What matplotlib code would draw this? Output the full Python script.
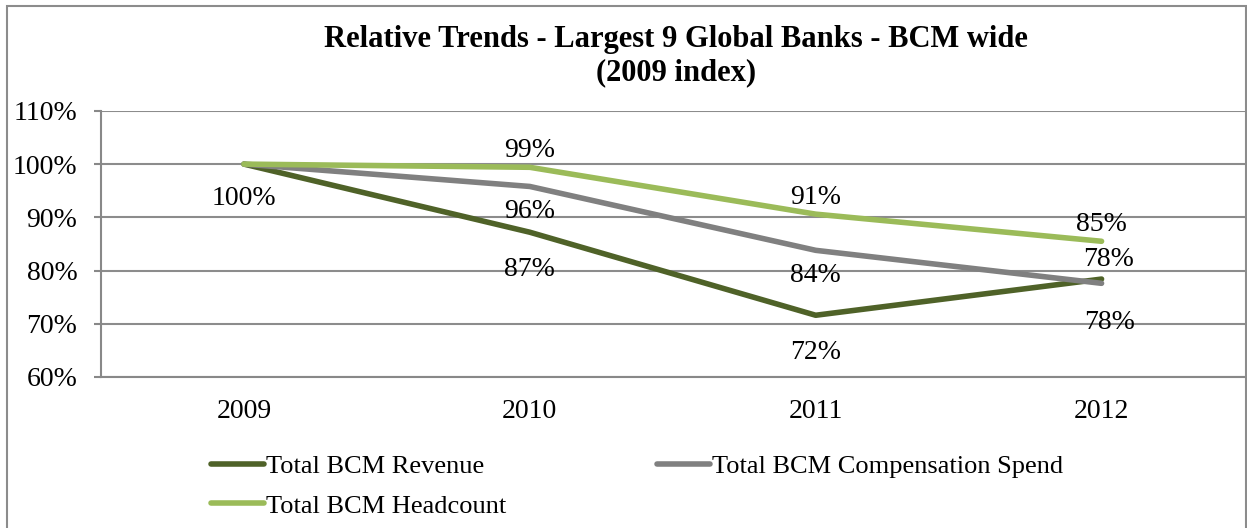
import matplotlib.pyplot as plt
from matplotlib.patches import Rectangle
from matplotlib.ticker import FuncFormatter

# index values, 2009 = 100%
years = ['2009', '2010', '2011', '2012']
revenue = [100, 87.2, 71.6, 78.4]
compensation = [100, 95.8, 83.8, 77.6]
headcount = [100, 99.4, 90.6, 85.5]

revenue_labels = ['100%', '87%', '72%', '78%']
compensation_labels = ['', '96%', '84%', '78%']
headcount_labels = ['', '99%', '91%', '85%']

plt.rcParams['font.family'] = ['Liberation Serif', 'DejaVu Serif']

fig = plt.figure(figsize=(12.47, 5.28), dpi=100)
ax = fig.add_axes([0.081, 0.286, 0.917, 0.504])

x = range(len(years))
l_rev, = ax.plot(x, revenue, color='#4f6228', lw=4, solid_capstyle='round', label='Total BCM Revenue', zorder=3)
l_comp, = ax.plot(x, compensation, color='#808080', lw=4, solid_capstyle='round', label='Total BCM Compensation Spend', zorder=3)
l_head, = ax.plot(x, headcount, color='#9bbb59', lw=4, solid_capstyle='round', label='Total BCM Headcount', zorder=3)

# data labels: headcount above, the others below (revenue 2012 goes above)
fs = 20
for i in x:
    if headcount_labels[i]:
        ax.annotate(headcount_labels[i], (i, headcount[i]), xytext=(0, 12), textcoords='offset points',
                    ha='center', va='center', fontsize=fs)
    if compensation_labels[i]:
        dy = -28 if i == 3 else -18
        ax.annotate(compensation_labels[i], (i, compensation[i]), xytext=(6 if i == 3 else 0, dy),
                    textcoords='offset points', ha='center', va='center', fontsize=fs)
    dy = 14 if i == 3 else -27
    if i == 0:
        dy = -25
    ax.annotate(revenue_labels[i], (i, revenue[i]), xytext=(5 if i == 3 else 0, dy),
                textcoords='offset points', ha='center', va='center', fontsize=fs)

ax.set_xlim(-0.5, 3.5)
ax.set_ylim(60, 110)
ax.set_yticks([60, 70, 80, 90, 100, 110])
ax.yaxis.set_major_formatter(FuncFormatter(lambda v, p: '%d%%' % v))
ax.set_xticks(list(x))
ax.set_xticklabels(years)
ax.tick_params(axis='y', length=5, width=1.5, color='#888888', labelsize=20, pad=12)
ax.tick_params(axis='x', length=0, labelsize=20, pad=16)
ax.grid(axis='y', color='#8c8c8c', lw=1.5)
ax.set_axisbelow(True)
for s in ['top', 'right']:
    ax.spines[s].set_visible(False)
for s in ['left', 'bottom']:
    ax.spines[s].set_color('#888888')
    ax.spines[s].set_linewidth(1.5)

fig.text(0.542, 0.926, 'Relative Trends - Largest 9 Global Banks - BCM wide',
         ha='center', va='center', fontsize=22, fontweight='bold')
fig.text(0.542, 0.862, '(2009 index)', ha='center', va='center', fontsize=22, fontweight='bold')

# row order: Revenue, Compensation / Headcount
fig.legend([l_rev, l_head, l_comp], [l_rev.get_label(), l_head.get_label(), l_comp.get_label()],
           loc='center left', bbox_to_anchor=(0.169, 0.079), ncol=2, frameon=False, fontsize=19,
           handlelength=2.0, handletextpad=0.1, columnspacing=5.7, labelspacing=0.6,
           borderaxespad=0, borderpad=0)

# chart border
fig.add_artist(Rectangle((7 / 1247, -0.05), 1239 / 1247, 1.05 - 6 / 528, transform=fig.transFigure,
                         fill=False, edgecolor='#8c8c8c', lw=1.5, clip_on=False))

fig.savefig('out.png', dpi=100)
